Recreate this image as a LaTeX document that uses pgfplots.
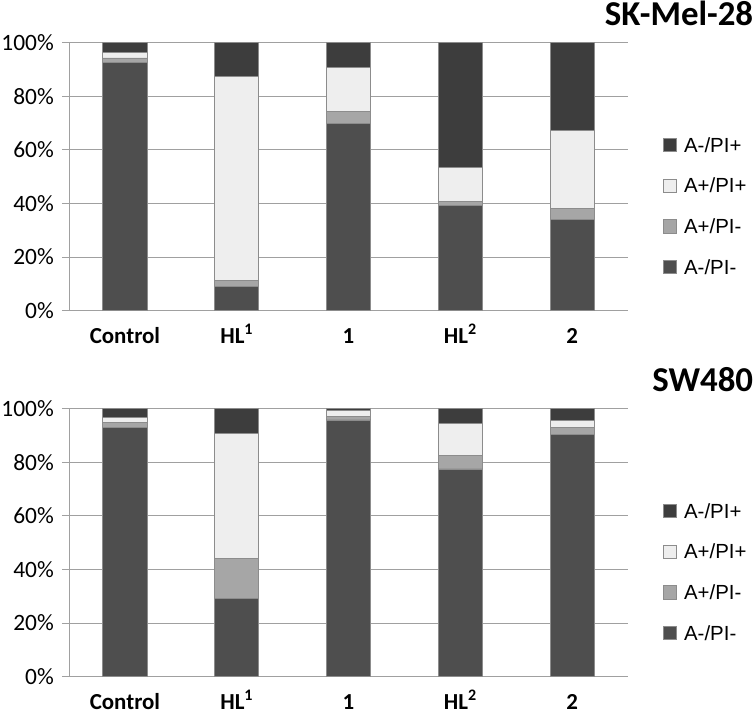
\documentclass[border=0pt]{standalone}
\usepackage{pgfplots}
\pgfplotsset{compat=1.18}
\usepackage{pgfplotstable}
\usepackage{fontspec}
\setmainfont{Carlito}
\newfontfamily\legfont{Liberation Sans}
\definecolor{cA}{HTML}{4E4E4E}% A-/PI-
\definecolor{cB}{HTML}{A6A6A6}% A+/PI-
\definecolor{cC}{HTML}{EEEEEE}% A+/PI+
\definecolor{cD}{HTML}{3D3D3D}% A-/PI+
\definecolor{gridc}{HTML}{A0A0A0}

% columns: x, A-/PI-, A+/PI-, A+/PI+, A-/PI+
\pgfplotstableread{
x a b c d
0 92.7 1.6 2.0 3.7
1 8.9 2.5 76.1 12.5
2 70.0 4.3 16.4 9.3
3 39.2 1.4 12.9 46.5
4 34.2 3.9 29.1 32.8
}\tabSK

\pgfplotstableread{
x a b c d
0 92.9 2.1 1.6 3.4
1 29.2 15.0 46.7 9.1
2 95.8 1.2 2.5 0.5
3 77.5 5.2 11.8 5.5
4 90.3 2.7 2.5 4.5
}\tabSW

\pgfplotsset{
  mystyle/.style={
    scale only axis,
    width=559bp, height=268bp,
    anchor=south west,
    ybar stacked,
    bar width=0.394,
    xmin=-0.5, xmax=4.5,
    ymin=0, ymax=100,
    xtick=data,
    xticklabels={Control, HL\textsuperscript{1}, 1, HL\textsuperscript{2}, 2},
    ytick={0,20,40,60,80,100},
    yticklabel={\pgfmathprintnumber{\tick}\%},
    /pgf/number format/assume math mode=true,
    axis x line*=bottom,
    axis y line*=left,
    axis line style={gridc, line width=1bp},
    ymajorgrids,
    grid style={gridc, line width=1bp},
    tick align=outside,
    major tick length=7bp,
    ytick style={gridc, line width=1bp},
    xtick style={draw=none},
    yticklabel style={font=\fontsize{23.5}{23.5}\selectfont, anchor=east, inner sep=0pt, xshift=-8bp},
    xticklabel style={font=\fontsize{23}{23}\selectfont\bfseries, anchor=base, inner sep=0pt, text depth=0pt, yshift=-26bp},
    title style={at={(axis description cs:1.2242,1.0415)}, anchor=base east, inner sep=0pt, yshift=0pt, xshift=0pt,
                 font=\fontsize{35}{35}\selectfont\bfseries},
    legend image code/.code={\draw[#1] (0bp,-6.65bp) rectangle (13.3bp,6.65bp);},
    reverse legend,
    legend cell align=left,
    legend style={at={(axis description cs:1.0626,0.6459)}, anchor=north west,
                  draw=none, fill=none, inner sep=0pt, outer sep=0pt,
                  row sep=26bp,
                  font=\legfont\fontsize{20.5}{20.5}\selectfont,
                  nodes={inner sep=0pt, text height=14.7bp, text depth=0pt},
                  /tikz/every odd column/.append style={column sep=7bp}},
    every axis plot/.append style={draw=black!45, line width=0.8bp},
  }
}

\begin{document}
\begin{tikzpicture}
\useasboundingbox (0bp,-3bp) rectangle (756bp,714bp);
\begin{axis}[mystyle, at={(69bp,403.3bp)}, title={SK-Mel-28}]
\addplot[fill=cA] table[x=x,y=a]{\tabSK};
\addplot[fill=cB] table[x=x,y=b]{\tabSK};
\addplot[fill=cC] table[x=x,y=c]{\tabSK};
\addplot[fill=cD] table[x=x,y=d]{\tabSK};
\legend{A-/PI-, A+/PI-, A+/PI+, A-/PI+}
\end{axis}
\begin{axis}[mystyle, at={(69bp,37.3bp)}, title={SW480}]
\addplot[fill=cA] table[x=x,y=a]{\tabSW};
\addplot[fill=cB] table[x=x,y=b]{\tabSW};
\addplot[fill=cC] table[x=x,y=c]{\tabSW};
\addplot[fill=cD] table[x=x,y=d]{\tabSW};
\legend{A-/PI-, A+/PI-, A+/PI+, A-/PI+}
\end{axis}
\end{tikzpicture}
\end{document}
